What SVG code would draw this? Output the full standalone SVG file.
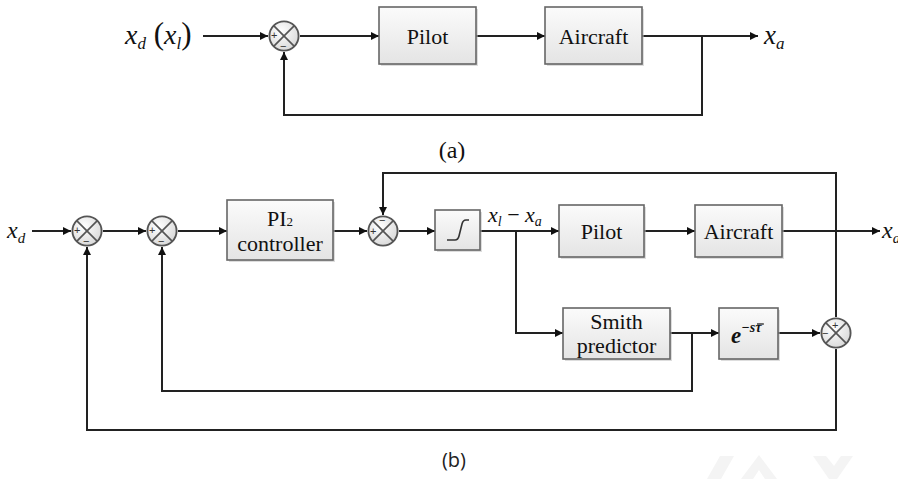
<svg xmlns="http://www.w3.org/2000/svg" width="898" height="479" viewBox="0 0 898 479">
<defs>
<linearGradient id="boxg" x1="0" y1="0" x2="0" y2="1">
<stop offset="0" stop-color="#fbfbfb"/><stop offset="1" stop-color="#e4e4e4"/>
</linearGradient>
<radialGradient id="sumg" cx="0.4" cy="0.35" r="0.7">
<stop offset="0" stop-color="#ffffff"/><stop offset="1" stop-color="#d8d8d8"/>
</radialGradient>
<marker id="arr" viewBox="0 0 10 10" refX="10" refY="5" markerWidth="9" markerHeight="8" markerUnits="userSpaceOnUse" orient="auto">
<path d="M0,0 L10,5 L0,10 z" fill="#111"/>
</marker>
<symbol id="sum" viewBox="-17 -17 34 34" overflow="visible">
<circle cx="0" cy="0" r="15.5" fill="url(#sumg)" stroke="#555" stroke-width="2"/>
<line x1="-11" y1="-11" x2="11" y2="11" stroke="#555" stroke-width="1.8"/>
<line x1="-11" y1="11" x2="11" y2="-11" stroke="#555" stroke-width="1.8"/>
</symbol>
</defs>
<style>
.box{fill:url(#boxg);stroke:#666;stroke-width:1.6}
.sh{fill:#bbb;opacity:0.5}
.w{fill:none;stroke:#222;stroke-width:2}
.t{fill:#111;font-size:22px}
.m{fill:#111;font-style:italic}
.sg{fill:#333;font-size:11px}
.cap{fill:#111;font-size:24px}
.capb{fill:#222;font-size:20px}
</style>

<g id="connectors">
<line class="w" x1="203" y1="36" x2="268" y2="36" marker-end="url(#arr)"/>
<line class="w" x1="300" y1="36" x2="379" y2="36" marker-end="url(#arr)"/>
<line class="w" x1="476" y1="36" x2="545" y2="36" marker-end="url(#arr)"/>
<line class="w" x1="642" y1="36" x2="758" y2="36" marker-end="url(#arr)"/>
<polyline class="w" points="702,36 702,115 284,115 284,52" marker-end="url(#arr)"/>
<line class="w" x1="32" y1="231" x2="71" y2="231" marker-end="url(#arr)"/>
<line class="w" x1="103" y1="231" x2="146" y2="231" marker-end="url(#arr)"/>
<line class="w" x1="178" y1="231" x2="227" y2="231" marker-end="url(#arr)"/>
<line class="w" x1="333" y1="231" x2="367" y2="231" marker-end="url(#arr)"/>
<line class="w" x1="399" y1="231" x2="435" y2="231" marker-end="url(#arr)"/>
<line class="w" x1="480" y1="231" x2="559" y2="231" marker-end="url(#arr)"/>
<line class="w" x1="644" y1="231" x2="695" y2="231" marker-end="url(#arr)"/>
<line class="w" x1="782" y1="231" x2="880" y2="231" marker-end="url(#arr)"/>
<polyline class="w" points="836,317 836,173 383,173 383,215" marker-end="url(#arr)"/>
<polyline class="w" points="516,231 516,333 563,333" marker-end="url(#arr)"/>
<line class="w" x1="670" y1="333" x2="719" y2="333" marker-end="url(#arr)"/>
<line class="w" x1="778" y1="333" x2="820" y2="333" marker-end="url(#arr)"/>
<polyline class="w" points="692,333 692,391 162,391 162,247" marker-end="url(#arr)"/>
<polyline class="w" points="836,349 836,430 87,430 87,247" marker-end="url(#arr)"/>
</g>

<g id="label-xd-xl">
<text class="m" x="125" y="44" font-size="28" font-family="Liberation Serif, serif">x<tspan font-size="17" dy="5">d</tspan><tspan dy="-5" font-style="normal" font-size="31"> (</tspan>x<tspan font-size="17" dy="5">l</tspan><tspan dy="-5" font-style="normal" font-size="31">)</tspan></text>
</g>
<g id="sum-a">
<use href="#sum" x="268" y="20" width="32" height="32"/>
<text class="sg" x="271" y="39" font-family="Liberation Sans, sans-serif">+</text>
<text class="sg" x="280" y="50" font-family="Liberation Sans, sans-serif">−</text>
</g>
<g id="pilot-a">
<rect class="sh" x="381" y="9" width="97" height="57"/>
<rect class="box" x="379" y="7" width="97" height="57"/>
<text class="t" x="427.5" y="44" text-anchor="middle" font-size="24" font-family="Liberation Serif, serif">Pilot</text>
</g>
<g id="aircraft-a">
<rect class="sh" x="547" y="9" width="97" height="57"/>
<rect class="box" x="545" y="7" width="97" height="57"/>
<text class="t" x="593.5" y="44" text-anchor="middle" font-size="24" font-family="Liberation Serif, serif">Aircraft</text>
</g>
<g id="label-xa-a">
<text class="m" x="764" y="44" font-size="27" font-family="Liberation Serif, serif">x<tspan font-size="17" dy="5">a</tspan></text>
</g>
<g id="caption-a"><text class="cap" x="452" y="158" text-anchor="middle" font-family="Liberation Serif, serif">(a)</text></g>

<g id="label-xd-b"><text class="m" x="7" y="238" font-size="24" font-family="Liberation Serif, serif">x<tspan font-size="15" dy="5">d</tspan></text></g>
<g id="sum1">
<use href="#sum" x="71" y="215" width="32" height="32"/>
<text class="sg" x="74" y="234" font-family="Liberation Sans, sans-serif">+</text>
<text class="sg" x="83" y="245" font-family="Liberation Sans, sans-serif">−</text>
</g>
<g id="sum2">
<use href="#sum" x="146" y="215" width="32" height="32"/>
<text class="sg" x="149" y="234" font-family="Liberation Sans, sans-serif">+</text>
<text class="sg" x="158" y="245" font-family="Liberation Sans, sans-serif">−</text>
</g>
<g id="pi2-controller">
<rect class="sh" x="229" y="202" width="106" height="60"/>
<rect class="box" x="227" y="200" width="106" height="60"/>
<text class="t" x="280" y="226" text-anchor="middle" font-family="Liberation Serif, serif">PI<tspan font-size="13">2</tspan></text>
<text class="t" x="280" y="251" text-anchor="middle" font-family="Liberation Serif, serif">controller</text>
</g>
<g id="sum3">
<use href="#sum" x="367" y="215" width="32" height="32"/>
<text class="sg" x="370" y="235" font-family="Liberation Sans, sans-serif">+</text>
<text class="sg" x="379" y="224" font-family="Liberation Sans, sans-serif">−</text>
</g>
<g id="saturation">
<rect class="sh" x="437" y="212" width="45" height="40"/>
<rect class="box" x="435" y="210" width="45" height="40"/>
<path d="M447,240 H455 Q458,240 459,236 L462,224 Q463,220 466,220 H469" fill="none" stroke="#333" stroke-width="1.6"/>
</g>
<g id="label-err">
<text class="m" x="488" y="222" font-size="22" font-family="Liberation Serif, serif">x<tspan font-size="14" dy="4">l</tspan><tspan dy="-4" font-style="normal"> − </tspan>x<tspan font-size="14" dy="4">a</tspan></text>
</g>
<g id="pilot-b">
<rect class="sh" x="561" y="207" width="85" height="52"/>
<rect class="box" x="559" y="205" width="85" height="52"/>
<text class="t" x="601.5" y="239" text-anchor="middle" font-family="Liberation Serif, serif">Pilot</text>
</g>
<g id="aircraft-b">
<rect class="sh" x="697" y="207" width="87" height="52"/>
<rect class="box" x="695" y="205" width="87" height="52"/>
<text class="t" x="738.5" y="239" text-anchor="middle" font-family="Liberation Serif, serif">Aircraft</text>
</g>
<g id="label-xa-b"><text class="m" x="882" y="238" font-size="24" font-family="Liberation Serif, serif">x<tspan font-size="15" dy="5">a</tspan></text></g>
<g id="smith-predictor">
<rect class="sh" x="565" y="310" width="107" height="51"/>
<rect class="box" x="563" y="308" width="107" height="51"/>
<text class="t" x="616.5" y="329" text-anchor="middle" font-family="Liberation Serif, serif">Smith</text>
<text class="t" x="616.5" y="353" text-anchor="middle" font-family="Liberation Serif, serif">predictor</text>
</g>
<g id="delay">
<rect class="sh" x="721" y="310" width="59" height="51"/>
<rect class="box" x="719" y="308" width="59" height="51"/>
<text class="m" x="731" y="343" font-size="23" font-weight="bold" font-family="Liberation Serif, serif">e<tspan font-size="14" dy="-11">−sτ</tspan></text>
<line x1="757" y1="324" x2="764" y2="324" stroke="#111" stroke-width="1.2"/>
</g>
<g id="sum4">
<use href="#sum" x="820" y="317" width="32" height="32"/>
<text class="sg" x="832" y="329" font-family="Liberation Sans, sans-serif">+</text>
<text class="sg" x="822" y="337" font-family="Liberation Sans, sans-serif">−</text>
</g>
<g id="caption-b"><text class="capb" x="454" y="467" text-anchor="middle" font-family="Open Sans, DejaVu Sans, sans-serif">(b)</text></g>
<g id="watermark" fill="#f4f4f4">
<polygon points="707,479 720,456 734,456 721,479"/>
<polygon points="741,479 759,455 777,479 765,479 759,470 753,479"/>
<polygon points="813,456 826,456 834,466 841,456 853,456 837,479 829,479"/>
</g>
</svg>
